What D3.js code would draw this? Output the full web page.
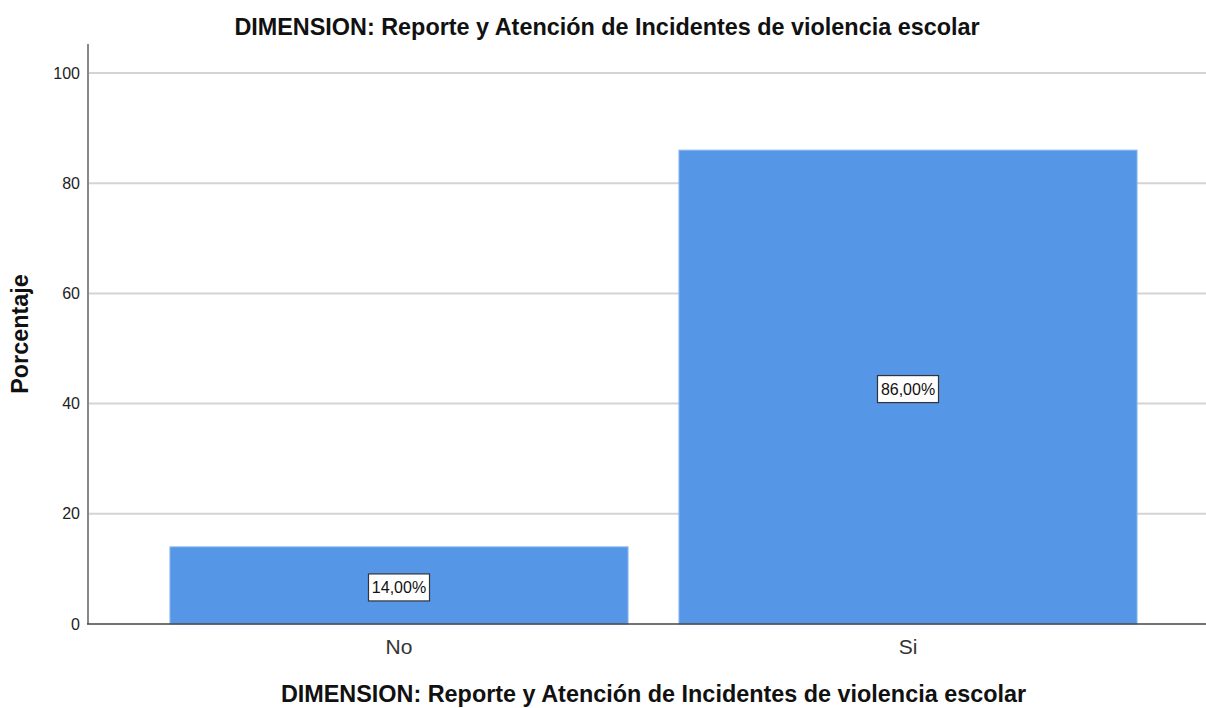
<!DOCTYPE html>
<html>
<head>
<meta charset="utf-8">
<script src="https://cdn.jsdelivr.net/npm/d3@7"></script>
<style>
  html, body { margin: 0; padding: 0; background: #fff; }
  svg { display: block; font-family: Arial, "Liberation Sans", sans-serif; }
</style>
</head>
<body>
<svg id="chart" width="1206" height="708"></svg>
<script>
// Data
const categories = ["No", "Si"];
const percentages = [14.00, 86.00];
const yTicks = [0, 20, 40, 60, 80, 100];
const chartTitle = "DIMENSION: Reporte y Atención de Incidentes de violencia escolar";
const xTitle = "DIMENSION: Reporte y Atención de Incidentes de violencia escolar";
const yTitle = "Porcentaje";

const svg = d3.select("#chart");
const W = 1206;
const plotLeft = 88, plotRight = 1219, plotTop = 44, plotBottom = 624;
const FONT = "Arial, 'Liberation Sans', sans-serif";

const x = d3.scaleBand().domain(categories).range([plotLeft, plotRight])
  .paddingInner(0.1).paddingOuter(0.161);
const y = d3.scaleLinear().domain([0, 100]).range([plotBottom, 73]);

// Gridlines
svg.append("g").selectAll("line").data(yTicks.filter(d => d > 0)).join("line")
  .attr("x1", plotLeft).attr("x2", W)
  .attr("y1", d => y(d)).attr("y2", d => y(d))
  .attr("stroke", "#d4d4d4").attr("stroke-width", 2);

// Bars
svg.append("g").selectAll("rect").data(categories).join("rect")
  .attr("x", d => x(d))
  .attr("y", (d, i) => y(percentages[i]))
  .attr("width", x.bandwidth())
  .attr("height", (d, i) => y(0) - y(percentages[i]))
  .attr("fill", "#5596e6")
  .attr("stroke", "#8ab8ef").attr("stroke-width", 1);

// Y axis
const yAxis = svg.append("g").attr("transform", `translate(${plotLeft},0)`)
  .call(d3.axisLeft(y).tickValues(yTicks).tickSize(0).tickPadding(8));
yAxis.attr("font-size", null).attr("font-family", null);
yAxis.select(".domain").remove();
yAxis.selectAll("text").style("font-size", "16px").style("font-family", FONT).attr("fill", "#222");
svg.append("line").attr("x1", plotLeft).attr("x2", plotLeft).attr("y1", plotTop).attr("y2", plotBottom)
  .attr("stroke", "#888").attr("stroke-width", 2);

// X axis
const xAxis = svg.append("g").attr("transform", `translate(0,${plotBottom})`)
  .call(d3.axisBottom(x).tickSize(0).tickPadding(15));
xAxis.attr("font-size", null).attr("font-family", null);
xAxis.select(".domain").remove();
xAxis.selectAll("text").style("font-size", "21px").style("font-family", FONT).attr("fill", "#333");
svg.append("line").attr("x1", plotLeft - 1).attr("x2", W).attr("y1", plotBottom).attr("y2", plotBottom)
  .attr("stroke", "#444").attr("stroke-width", 1.5);

// Value labels
const lbl = svg.append("g").selectAll("g").data(categories).join("g")
  .attr("transform", (d, i) => `translate(${x(d) + x.bandwidth() / 2},${(y(0) + y(percentages[i])) / 2 + 2})`);
lbl.append("rect").attr("x", -30.5).attr("y", -13.5).attr("width", 61).attr("height", 27)
  .attr("fill", "#fff").attr("stroke", "#333").attr("stroke-width", 1.2);
lbl.append("text").attr("text-anchor", "middle").attr("dy", "0.36em")
  .style("font-size", "16px").attr("fill", "#111").style("font-family", FONT)
  .text((d, i) => percentages[i].toFixed(2).replace(".", ",") + "%");

// Titles
svg.append("text").attr("x", 607).attr("y", 35).attr("text-anchor", "middle")
  .style("font-size", "23.4px").attr("font-weight", "bold").attr("fill", "#111").text(chartTitle);
svg.append("text").attr("x", (plotLeft + plotRight) / 2).attr("y", 702).attr("text-anchor", "middle")
  .style("font-size", "23.4px").attr("font-weight", "bold").attr("fill", "#111").text(xTitle);
svg.append("text").attr("transform", `translate(28,334) rotate(-90)`)
  .attr("text-anchor", "middle")
  .style("font-size", "23.4px").attr("font-weight", "bold").attr("fill", "#111").text(yTitle);
</script>
</body>
</html>
